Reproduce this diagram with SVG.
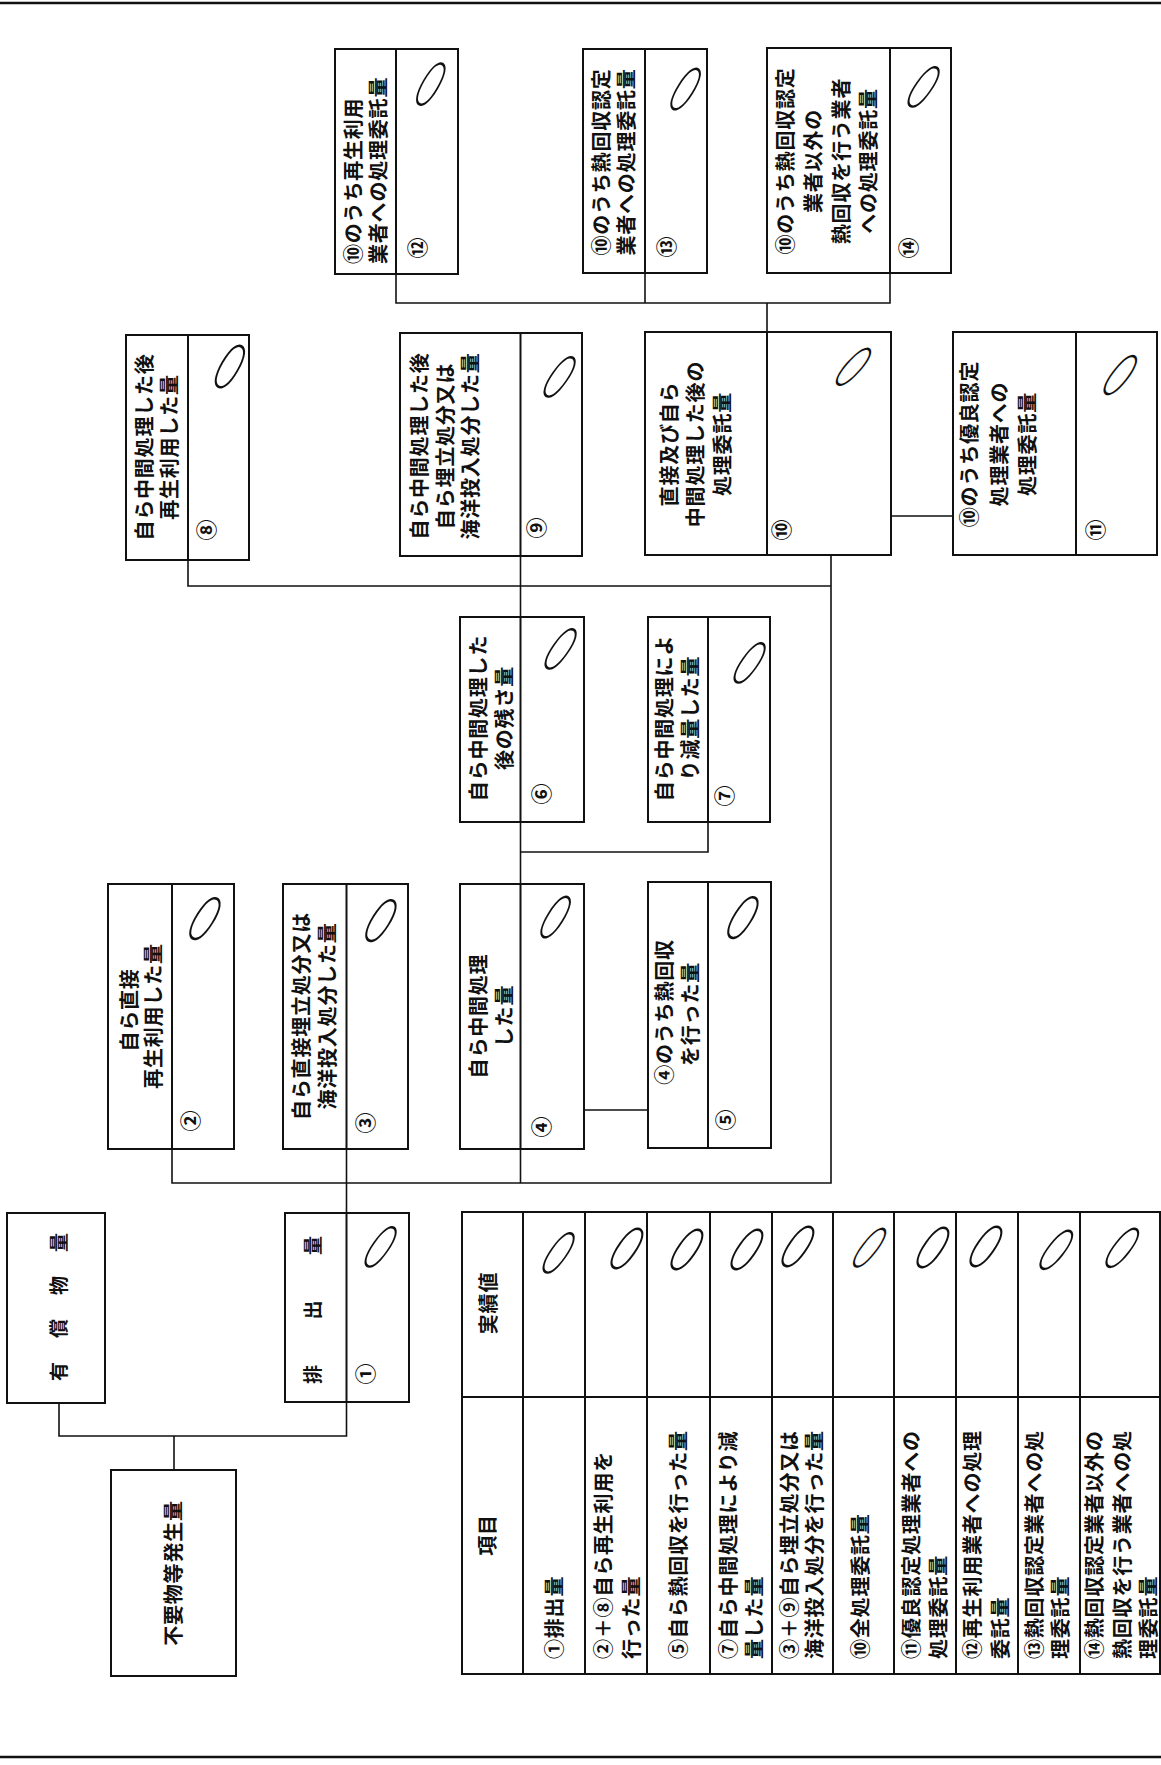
<svg xmlns="http://www.w3.org/2000/svg" width="1161" height="1765" viewBox="0 0 1161 1765">
<style>
.bx{fill:none;stroke:#111;stroke-width:2}
.dv{stroke:#111;stroke-width:2}
.cn{fill:none;stroke:#111;stroke-width:1.6}
.t{font-family:"Noto Sans CJK JP","Noto Sans CJK SC",sans-serif;font-size:20px;font-weight:600;letter-spacing:0.8px;dominant-baseline:central;fill:#111}
.m{text-anchor:middle}
.s{text-anchor:start}
.n{font-family:"Noto Sans CJK JP","Noto Sans CJK SC",sans-serif;font-size:21px;font-weight:600;text-anchor:middle;dominant-baseline:central;fill:#111}
.hw{font-family:Lato,Inter,"DejaVu Sans",sans-serif;font-weight:300;font-size:68px;text-anchor:middle;dominant-baseline:central;fill:#111}
</style>
<rect width="1161" height="1765" fill="#fff"/>
<g id="frame">
<line x1="0" y1="3" x2="1161" y2="3" stroke="#111" stroke-width="2.5"/>
<line x1="0" y1="1757" x2="1161" y2="1757" stroke="#111" stroke-width="2.5"/>
</g>
<g id="connectors">
<path class="cn" d="M396,274 V303 H890 V273 M645,273 V303 M767,303 V332"/>
<path class="cn" d="M891,516 H953"/>
<path class="cn" d="M188,560 V586 H831 M831,555 V1183 H172 V1149"/>
<path class="cn" d="M520.5,556 V617 M520.5,822 V884 M520.5,1149 V1183 M520.5,852 H708 V822"/>
<path class="cn" d="M584,1110 H648"/>
<path class="cn" d="M346.5,1149 V1213 M346.5,1402 V1436 H59 V1403 M174,1436 V1470"/>
</g>
<g id="node12">
<rect class="bx" x="335" y="49" width="123" height="225"/>
<line class="dv" x1="396" y1="49" x2="396" y2="274"/>
<text class="t s" transform="translate(352,264) rotate(-90)">⑩のうち再生利用</text>
<text class="t s" transform="translate(377,264) rotate(-90)">業者への処理委託量</text>
<text class="n" transform="translate(416,248) rotate(-90)">⑫</text>
<text class="hw" transform="translate(432,82) rotate(30) scale(0.5,1)">0</text>
</g>
<g id="node13">
<rect class="bx" x="583" y="49" width="124" height="224"/>
<line class="dv" x1="645" y1="49" x2="645" y2="273"/>
<text class="t m" transform="translate(600,162) rotate(-90)">⑩のうち熱回収認定</text>
<text class="t m" transform="translate(625,162) rotate(-90)">業者への処理委託量</text>
<text class="n" transform="translate(665,247) rotate(-90)">⑬</text>
<text class="hw" transform="translate(687,87) rotate(32) scale(0.5,1)" font-size="72">0</text>
</g>
<g id="node14">
<rect class="bx" x="767" y="48" width="184" height="225"/>
<line class="dv" x1="890" y1="48" x2="890" y2="273"/>
<text class="t m" transform="translate(784,161) rotate(-90)">⑩のうち熱回収認定</text>
<text class="t m" transform="translate(812,161) rotate(-90)">業者以外の</text>
<text class="t m" transform="translate(840,161) rotate(-90)">熱回収を行う業者</text>
<text class="t m" transform="translate(867,161) rotate(-90)">への処理委託量</text>
<text class="n" transform="translate(907,248) rotate(-90)">⑭</text>
<text class="hw" transform="translate(925,85) rotate(35) scale(0.5,1)" font-size="80">0</text>
</g>
<g id="node8">
<rect class="bx" x="126" y="335" width="123" height="225"/>
<line class="dv" x1="188" y1="335" x2="188" y2="560"/>
<text class="t m" transform="translate(143,447) rotate(-90)">自ら中間処理した後</text>
<text class="t m" transform="translate(168,447) rotate(-90)">再生利用した量</text>
<text class="n" transform="translate(205,530) rotate(-90)">⑧</text>
<text class="hw" transform="translate(231,365) rotate(30) scale(0.55,1)">0</text>
</g>
<g id="node9">
<rect class="bx" x="400" y="333" width="182" height="223"/>
<line class="dv" x1="520.5" y1="333" x2="520.5" y2="556"/>
<text class="t m" transform="translate(418,446) rotate(-90)">自ら中間処理した後</text>
<text class="t m" transform="translate(444,446) rotate(-90)">自ら埋立処分又は</text>
<text class="t m" transform="translate(469,446) rotate(-90)">海洋投入処分した量</text>
<text class="n" transform="translate(535,528) rotate(-90)">⑨</text>
<text class="hw" transform="translate(561,375) rotate(35) scale(0.5,1)" font-size="72">0</text>
</g>
<g id="node10">
<rect class="bx" x="645" y="332" width="246" height="223"/>
<line class="dv" x1="767" y1="332" x2="767" y2="555"/>
<text class="t m" transform="translate(668,444) rotate(-90)">直接及び自ら</text>
<text class="t m" transform="translate(694,444) rotate(-90)">中間処理した後の</text>
<text class="t m" transform="translate(721,444) rotate(-90)">処理委託量</text>
<text class="n" transform="translate(780,530) rotate(-90)">⑩</text>
<text class="hw" transform="translate(855,365) rotate(42) scale(0.45,1)" font-size="82">0</text>
</g>
<g id="node11">
<rect class="bx" x="953" y="332" width="204" height="223"/>
<line class="dv" x1="1076" y1="332" x2="1076" y2="555"/>
<text class="t m" transform="translate(968,444) rotate(-90)">⑩のうち優良認定</text>
<text class="t m" transform="translate(998,444) rotate(-90)">処理業者への</text>
<text class="t m" transform="translate(1026,444) rotate(-90)">処理委託量</text>
<text class="n" transform="translate(1094,530) rotate(-90)">⑪</text>
<text class="hw" transform="translate(1122,373) rotate(38) scale(0.48,1)" font-size="78">0</text>
</g>
<g id="node6">
<rect class="bx" x="460" y="617" width="124" height="205"/>
<line class="dv" x1="520.5" y1="617" x2="520.5" y2="822"/>
<text class="t m" transform="translate(477,718) rotate(-90)">自ら中間処理した</text>
<text class="t m" transform="translate(503,718) rotate(-90)">後の残さ量</text>
<text class="n" transform="translate(540,794) rotate(-90)">⑥</text>
<text class="hw" transform="translate(562,647) rotate(35) scale(0.5,1)" font-size="66">0</text>
</g>
<g id="node7">
<rect class="bx" x="648" y="617" width="122" height="205"/>
<line class="dv" x1="708" y1="617" x2="708" y2="822"/>
<text class="t m" transform="translate(663,718) rotate(-90)">自ら中間処理によ</text>
<text class="t m" transform="translate(689,718) rotate(-90)">り減量した量</text>
<text class="n" transform="translate(723,796) rotate(-90)">⑦</text>
<text class="hw" transform="translate(751,661) rotate(35) scale(0.5,1)" font-size="66">0</text>
</g>
<g id="node2">
<rect class="bx" x="108" y="884" width="126" height="265"/>
<line class="dv" x1="172" y1="884" x2="172" y2="1149"/>
<text class="t m" transform="translate(128,1010) rotate(-90)">自ら直接</text>
<text class="t m" transform="translate(152,1016) rotate(-90)">再生利用した量</text>
<text class="n" transform="translate(189,1121) rotate(-90)">②</text>
<text class="hw" transform="translate(206,917) rotate(32) scale(0.55,1)" font-size="64">0</text>
</g>
<g id="node3">
<rect class="bx" x="283" y="884" width="125" height="265"/>
<line class="dv" x1="346.5" y1="884" x2="346.5" y2="1149"/>
<text class="t m" transform="translate(300,1016) rotate(-90)">自ら直接埋立処分又は</text>
<text class="t m" transform="translate(326,1016) rotate(-90)">海洋投入処分した量</text>
<text class="n" transform="translate(364,1123) rotate(-90)">③</text>
<text class="hw" transform="translate(382,919) rotate(32) scale(0.55,1)">0</text>
</g>
<g id="node4">
<rect class="bx" x="460" y="884" width="124" height="265"/>
<line class="dv" x1="520.5" y1="884" x2="520.5" y2="1149"/>
<text class="t m" transform="translate(477,1016) rotate(-90)">自ら中間処理</text>
<text class="t m" transform="translate(503,1016) rotate(-90)">した量</text>
<text class="n" transform="translate(540,1127) rotate(-90)">④</text>
<text class="hw" transform="translate(557,915) rotate(32) scale(0.5,1)" font-size="66">0</text>
</g>
<g id="node5">
<rect class="bx" x="648" y="882" width="123" height="266"/>
<line class="dv" x1="708" y1="882" x2="708" y2="1148"/>
<text class="t m" transform="translate(663,1012) rotate(-90)">④のうち熱回収</text>
<text class="t m" transform="translate(689,1014) rotate(-90)">を行った量</text>
<text class="n" transform="translate(724,1120) rotate(-90)">⑤</text>
<text class="hw" transform="translate(744,916) rotate(32) scale(0.55,1)" font-size="66">0</text>
</g>
<g id="nodeYusho">
<rect class="bx" x="7" y="1213" width="98" height="190"/>
<text class="t s" style="font-size:19px;letter-spacing:24px" transform="translate(57,1381) rotate(-90)">有償物量</text>
</g>
<g id="node1">
<rect class="bx" x="285" y="1213" width="124" height="189"/>
<line class="dv" x1="346.5" y1="1213" x2="346.5" y2="1402"/>
<text class="t s" style="font-size:19px;letter-spacing:45.5px" transform="translate(311,1384) rotate(-90)">排出量</text>
<text class="n" transform="translate(364,1374) rotate(-90)">①</text>
<text class="hw" transform="translate(382,1245) rotate(35) scale(0.5,1)" font-size="66">0</text>
</g>
<g id="nodeFuyo">
<rect class="bx" x="111" y="1470" width="125" height="206"/>
<text class="t m" transform="translate(172,1573) rotate(-90)">不要物等発生量</text>
</g>
<g id="table">
<rect class="bx" x="462" y="1212" width="698" height="462"/>
<path class="dv" fill="none" d="M462,1397 H1160 M523,1212 V1674 M585,1212 V1674 M647,1212 V1674 M710,1212 V1674 M772,1212 V1674 M833,1212 V1674 M894,1212 V1674 M956,1212 V1674 M1018,1212 V1674 M1080,1212 V1674"/>
<text class="t m" transform="translate(487,1303) rotate(-90)">実績値</text>
<text class="t m" transform="translate(486,1535) rotate(-90)">項目</text>
<text class="t s" transform="translate(553,1659) rotate(-90)">①排出量</text>
<text class="t s" transform="translate(602,1659) rotate(-90)">②＋⑧自ら再生利用を</text>
<text class="t s" transform="translate(630,1659) rotate(-90)">行った量</text>
<text class="t s" transform="translate(677,1659) rotate(-90)">⑤自ら熱回収を行った量</text>
<text class="t s" transform="translate(727,1659) rotate(-90)">⑦自ら中間処理により減</text>
<text class="t s" transform="translate(753,1659) rotate(-90)">量した量</text>
<text class="t s" transform="translate(788,1659) rotate(-90)">③＋⑨自ら埋立処分又は</text>
<text class="t s" transform="translate(813,1659) rotate(-90)">海洋投入処分を行った量</text>
<text class="t s" transform="translate(859,1659) rotate(-90)">⑩全処理委託量</text>
<text class="t s" transform="translate(910,1659) rotate(-90)">⑪優良認定処理業者への</text>
<text class="t s" transform="translate(937,1659) rotate(-90)">処理委託量</text>
<text class="t s" transform="translate(971,1659) rotate(-90)">⑫再生利用業者への処理</text>
<text class="t s" transform="translate(999,1659) rotate(-90)">委託量</text>
<text class="t s" transform="translate(1033,1659) rotate(-90)">⑬熱回収認定業者への処</text>
<text class="t s" transform="translate(1059,1659) rotate(-90)">理委託量</text>
<text class="t s" transform="translate(1093,1659) rotate(-90)">⑭熱回収認定業者以外の</text>
<text class="t s" transform="translate(1121,1659) rotate(-90)">熱回収を行う業者への処</text>
<text class="t s" transform="translate(1147,1659) rotate(-90)">理委託量</text>
<text class="hw" transform="translate(560,1251) rotate(35) scale(0.5,1)" font-size="64">0</text>
<text class="hw" transform="translate(628,1247) rotate(35) scale(0.55,1)" font-size="64">0</text>
<text class="hw" transform="translate(688,1248) rotate(35) scale(0.55,1)" font-size="66">0</text>
<text class="hw" transform="translate(748,1248) rotate(35) scale(0.55,1)" font-size="64">0</text>
<text class="hw" transform="translate(799,1245) rotate(35) scale(0.55,1)" font-size="68">0</text>
<text class="hw" transform="translate(871,1246) rotate(38) scale(0.45,1)" font-size="60">0</text>
<text class="hw" transform="translate(934,1246) rotate(35) scale(0.55,1)" font-size="66">0</text>
<text class="hw" transform="translate(987,1245) rotate(35) scale(0.55,1)" font-size="66">0</text>
<text class="hw" transform="translate(1058,1248) rotate(38) scale(0.5,1)" font-size="66">0</text>
<text class="hw" transform="translate(1124,1246) rotate(38) scale(0.5,1)" font-size="70">0</text>
</g>
</svg>
